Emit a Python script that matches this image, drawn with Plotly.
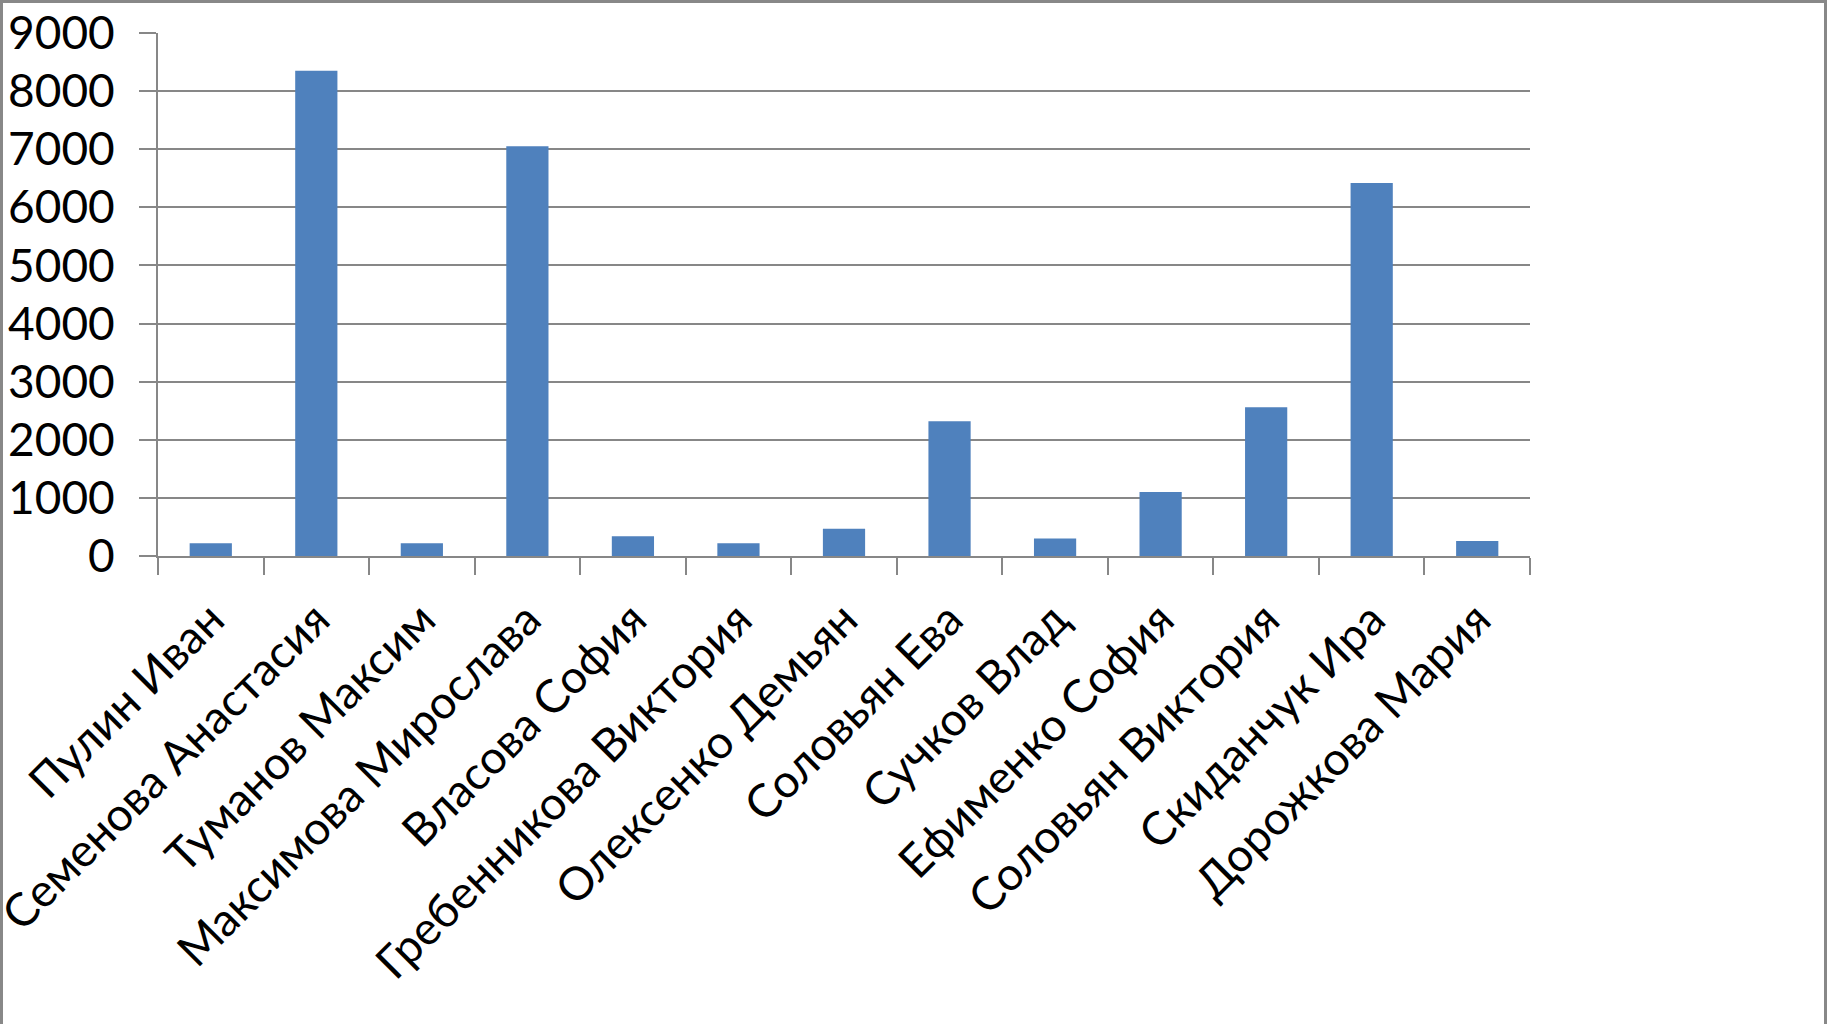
import plotly.graph_objects as go

names = ["Пулин Иван", "Семенова Анастасия", "Туманов Максим", "Максимова Мирослава",
         "Власова София", "Гребенникова Виктория", "Олексенко Демьян", "Соловьян Ева",
         "Сучков Влад", "Ефименко София", "Соловьян Виктория", "Скиданчук Ира",
         "Дорожкова Мария"]
values = [220, 8350, 220, 7050, 340, 220, 470, 2320, 300, 1100, 2560, 6420, 260]
y_ticks = [0, 1000, 2000, 3000, 4000, 5000, 6000, 7000, 8000, 9000]

W, H = 1827, 1024
L, R, T, B = 158, 297, 33, 468
pw, ph = W - L - R, H - T - B
FONT = "Lato, 'Open Sans', sans-serif"
GRID = "#878787"

fig = go.Figure(go.Bar(x=names, y=values, marker=dict(color="#4F81BD", line=dict(width=0)),
                       width=0.4))

fig.update_layout(
    width=W, height=H,
    margin=dict(l=L, r=R, t=T, b=B, pad=0, autoexpand=False),
    paper_bgcolor="white", plot_bgcolor="white",
    showlegend=False,
    font=dict(family=FONT, size=46, color="#000000"),
)
fig.update_xaxes(
    type="category", tickangle=-45, tickson="boundaries", automargin=False,
    ticks="outside", ticklen=17, tickwidth=2, tickcolor=GRID,
    showline=True, linecolor=GRID, linewidth=2, showgrid=False,
    tickfont=dict(family=FONT, size=46), ticklabelstandoff=16,
)
fig.update_yaxes(
    range=[0, 9000], tickvals=y_ticks, ticktext=[str(v) for v in y_ticks], automargin=False,
    ticks="outside", ticklen=17, tickwidth=2, tickcolor=GRID,
    showline=True, linecolor=GRID, linewidth=2,
    showgrid=True, gridcolor=GRID, gridwidth=2, zeroline=False,
    tickfont=dict(family=FONT, size=46), ticklabelstandoff=15,
)

# outer chart border
fig.add_shape(type="rect", xref="paper", yref="paper",
              x0=(1.5 - L) / pw, x1=(W - 1.5 - L) / pw,
              y0=(B - (H - 1.5)) / ph, y1=(H - B - 1.5) / ph,
              line=dict(color="#888888", width=3), fillcolor="rgba(0,0,0,0)", layer="above")

fig.write_html("out.html", config={"displayModeBar": False},
               post_script="document.body.style.margin='0';document.body.style.overflow='hidden';")
